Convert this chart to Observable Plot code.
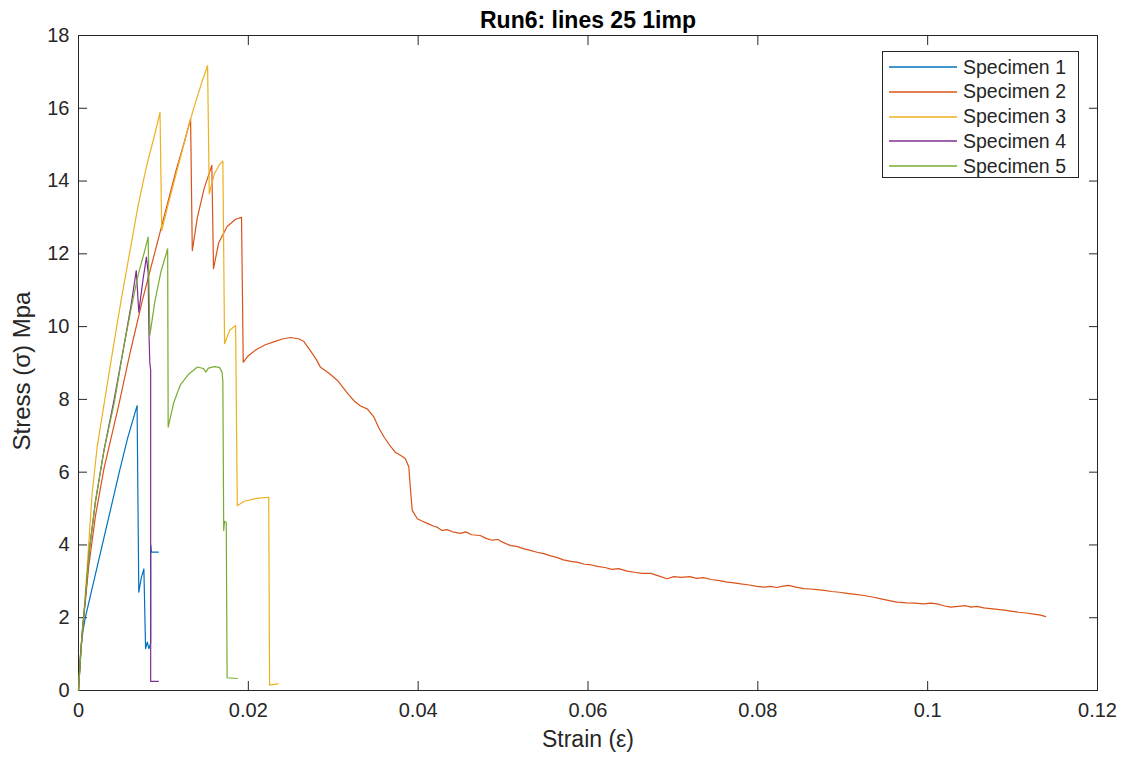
<!DOCTYPE html>
<html>
<head>
<meta charset="utf-8">
<script src="https://cdn.jsdelivr.net/npm/d3@7"></script>
<script src="https://cdn.jsdelivr.net/npm/@observablehq/plot@0.6"></script>
<style>
  html, body { margin: 0; padding: 0; background: #fff; }
  #wrap { position: relative; width: 1130px; height: 758px; font-family: "Liberation Sans", Arial, sans-serif; }
  #legend { position: absolute; left: 882px; top: 51px; width: 197px; height: 127px; border: 1px solid #262626; background: #fff; box-sizing: border-box; }
  .row { position: absolute; left: 0; height: 20px; display: flex; align-items: center; }
  .row svg { margin-left: 6px; }
  .row span { margin-left: 6px; font-size: 19.5px; color: #262626; white-space: nowrap; }
</style>
</head>
<body>
<div id="wrap"></div>
<script>
const titleText = "Run6: lines 25 1imp";
const xLabel = "Strain (ε)";
const yLabel = "Stress (σ) Mpa";
const seriesNames = ["Specimen 1", "Specimen 2", "Specimen 3", "Specimen 4", "Specimen 5"];
const seriesColors = ["#0072BD", "#D95319", "#EDB120", "#7E2F8E", "#77AC30"];
const xTicks = [0, 0.02, 0.04, 0.06, 0.08, 0.1, 0.12];
const xTickLabels = ["0", "0.02", "0.04", "0.06", "0.08", "0.1", "0.12"];
const yTicks = [0, 2, 4, 6, 8, 10, 12, 14, 16, 18];

// [strain, stress]
const specimen1 = [
  [0,0],[0.0002,0.9],[0.0005,1.6],[0.0008,2.0],[0.0018,3.0],[0.0028,4.0],[0.0038,5.0],
  [0.0048,6.0],[0.0058,6.95],[0.0069,7.83],[0.0071,2.7],[0.0074,3.1],[0.0077,3.34],
  [0.0079,1.15],[0.0081,1.33],[0.0083,1.15],[0.0085,1.3],[0.0085,4.0],[0.0086,3.8],[0.0094,3.8]
];
const specimen2 = [
  [0,0],[0.0003,1.2],[0.0007,2.2],[0.0012,3.4],[0.002,4.8],[0.003,6.1],[0.004,7.1],[0.0047,7.8],
  [0.006,9.2],[0.0075,10.7],[0.0085,11.6],[0.0095,12.5],[0.0105,13.4],[0.0115,14.3],[0.0125,15.1],
  [0.0132,15.71],[0.0134,12.09],[0.0140,13.0],[0.0148,13.8],[0.0157,14.43],[0.0159,11.59],
  [0.0165,12.3],[0.0175,12.75],[0.0185,12.95],[0.0192,13.0],[0.0194,9.02],[0.020,9.2],[0.021,9.38],
  [0.022,9.5],[0.023,9.58],[0.024,9.66],[0.025,9.7],[0.026,9.66],[0.0265,9.6],[0.0273,9.34],
  [0.0280,9.1],[0.0285,8.88],[0.0295,8.72],[0.0305,8.52],[0.0315,8.22],[0.0324,7.97],[0.0332,7.82],
  [0.0340,7.74],[0.0348,7.51],[0.0354,7.2],[0.0360,6.96],[0.0367,6.72],[0.0373,6.55],[0.0380,6.45],
  [0.0385,6.37],[0.0389,6.14],[0.0391,5.5],[0.0393,4.95],[0.0399,4.72],[0.0405,4.65],[0.0412,4.58],
  [0.0418,4.52],[0.0422,4.49],[0.0428,4.40],[0.0434,4.42],[0.0442,4.35],[0.0450,4.32],[0.0456,4.36],
  [0.0463,4.28],[0.0473,4.26],[0.0480,4.18],[0.0487,4.13],[0.0494,4.15],[0.0500,4.07],[0.0509,3.98],
  [0.0516,3.96],[0.0524,3.90],[0.0532,3.85],[0.0540,3.80],[0.0548,3.76],[0.0556,3.70],[0.0563,3.66],
  [0.0571,3.59],[0.0580,3.55],[0.0588,3.52],[0.0596,3.47],[0.0604,3.45],[0.0611,3.41],[0.0620,3.38],
  [0.0628,3.33],[0.0636,3.35],[0.0646,3.28],[0.0655,3.25],[0.0664,3.22],[0.0674,3.22],[0.0683,3.15],
  [0.0693,3.07],[0.0701,3.13],[0.0710,3.11],[0.0720,3.13],[0.0728,3.08],[0.0736,3.10],[0.0745,3.05],
  [0.0755,3.02],[0.0764,2.98],[0.0772,2.96],[0.0780,2.93],[0.0790,2.90],[0.0799,2.86],[0.0807,2.84],
  [0.0815,2.86],[0.0822,2.83],[0.0830,2.87],[0.0836,2.89],[0.0845,2.84],[0.0854,2.80],[0.0862,2.79],
  [0.0870,2.77],[0.0878,2.75],[0.0887,2.72],[0.0896,2.70],[0.0905,2.67],[0.0915,2.64],[0.0925,2.61],
  [0.0935,2.57],[0.0945,2.52],[0.0955,2.47],[0.0964,2.43],[0.0975,2.41],[0.0985,2.40],[0.0995,2.38],
  [0.1004,2.40],[0.1011,2.38],[0.1019,2.33],[0.1027,2.29],[0.1036,2.31],[0.1045,2.33],[0.1051,2.29],
  [0.1058,2.31],[0.1066,2.27],[0.1074,2.25],[0.1082,2.23],[0.1090,2.21],[0.1098,2.18],[0.1107,2.15],
  [0.1116,2.13],[0.1125,2.10],[0.1133,2.07],[0.1139,2.03]
];
const specimen3 = [
  [0,0],[0.0003,1.2],[0.0006,2.0],[0.0012,4.0],[0.0016,5.4],[0.0022,6.7],[0.0031,8.0],[0.004,9.3],
  [0.005,10.7],[0.006,12.0],[0.007,13.3],[0.008,14.4],[0.009,15.3],[0.0096,15.89],[0.0098,12.64],
  [0.0105,13.3],[0.0115,14.2],[0.0125,15.1],[0.0135,15.95],[0.0145,16.7],[0.0152,17.17],[0.0154,13.65],
  [0.0160,14.2],[0.0166,14.45],[0.0170,14.55],[0.0172,9.53],[0.0178,9.9],[0.0185,10.03],[0.0187,5.08],
  [0.0195,5.2],[0.021,5.28],[0.0224,5.31],[0.0225,0.15],[0.0235,0.18]
];
const specimen4 = [
  [0,0],[0.0004,1.5],[0.0008,2.5],[0.0013,3.9],[0.002,5.2],[0.003,6.6],[0.0042,8.0],[0.0053,9.4],
  [0.0062,10.6],[0.0068,11.54],[0.0071,10.4],[0.0076,11.3],[0.0080,11.91],[0.0082,11.5],[0.0083,9.8],
  [0.0084,9.0],[0.0085,8.8],[0.0085,0.25],[0.0094,0.25]
];
const specimen5 = [
  [0,0],[0.0004,1.5],[0.0008,2.5],[0.0013,3.9],[0.002,5.2],[0.003,6.6],[0.0042,7.9],[0.0053,9.4],
  [0.0062,10.5],[0.0070,11.4],[0.0077,12.0],[0.0082,12.46],[0.0084,9.76],[0.0090,10.7],[0.0097,11.5],
  [0.0105,12.14],[0.01056,7.24],[0.0112,7.9],[0.012,8.4],[0.013,8.7],[0.014,8.89],[0.0147,8.85],
  [0.0150,8.75],[0.0153,8.86],[0.016,8.9],[0.0166,8.88],[0.0169,8.75],[0.0170,8.5],[0.0171,4.4],
  [0.0172,4.65],[0.0174,4.62],[0.0175,0.35],[0.0187,0.33]
];

const allSeries = [specimen1, specimen2, specimen3, specimen4, specimen5];

const ink = "#262626";
const font = '"Liberation Sans", Arial, sans-serif';
const chart = Plot.plot({
  width: 1130,
  height: 758,
  marginLeft: 78,
  marginRight: 33,
  marginTop: 35,
  marginBottom: 68,
  style: {fontFamily: font, color: ink, background: "#fff", overflow: "visible"},
  x: {domain: [0, 0.12]},
  y: {domain: [0, 18]},
  marks: [
    Plot.frame({stroke: ink, strokeWidth: 1}),
    Plot.axisX(xTicks, {anchor: "bottom", tickSize: -9, tickPadding: 21, tickFormat: (d, i) => xTickLabels[i],
      fontSize: 20, label: null, stroke: ink, fill: ink}),
    Plot.axisX(xTicks, {anchor: "top", tickSize: -9, tickFormat: () => "", label: null, stroke: ink}),
    Plot.axisY(yTicks, {anchor: "left", tickSize: -9, tickPadding: 18, fontSize: 20,
      label: null, stroke: ink, fill: ink}),
    Plot.axisY(yTicks, {anchor: "right", tickSize: -9, tickFormat: () => "", label: null, stroke: ink}),
    ...allSeries.map((s, i) => Plot.line(s, {x: d => d[0], y: d => d[1], stroke: seriesColors[i], strokeWidth: 1.2})),
    Plot.text([xLabel], {frameAnchor: "bottom", dy: 56, fontSize: 23, fill: ink}),
    Plot.text([yLabel], {frameAnchor: "left", textAnchor: "middle", dx: -56, dy: 8, rotate: -90, fontSize: 24, fill: ink}),
    Plot.text([titleText], {frameAnchor: "top", dy: -8, fontSize: 23, fontWeight: "bold", fill: "#000", lineAnchor: "bottom"})
  ]
});
const wrap = document.getElementById("wrap");
wrap.appendChild(chart);

const legend = document.createElement("div");
legend.id = "legend";
seriesNames.forEach((name, i) => {
  const row = document.createElement("div");
  row.className = "row";
  row.style.top = (5 + i * 24.8) + "px";
  row.innerHTML = `<svg width="68" height="4"><line x1="0" x2="68" y1="2" y2="2" stroke="${seriesColors[i]}" stroke-width="1.3"/></svg><span>${name}</span>`;
  legend.appendChild(row);
});
wrap.appendChild(legend);
</script>
</body>
</html>
